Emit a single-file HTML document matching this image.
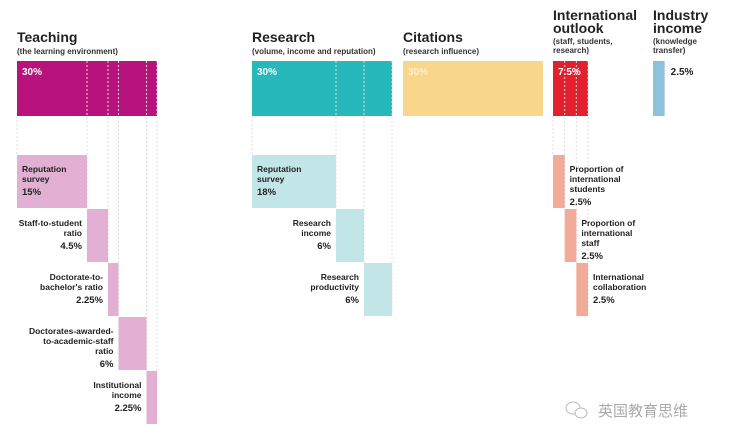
<!DOCTYPE html>
<html><head><meta charset="utf-8"><style>
html,body{margin:0;padding:0;background:#fff;width:730px;height:443px;overflow:hidden}
svg{display:block;font-family:"Liberation Sans","Noto Sans CJK SC",sans-serif}
</style></head><body>
<svg id="chart" width="730" height="443"></svg>
<script>
const groupNames = ["Teaching","Research","Citations","International outlook","Industry income"];
const groupTitles = [["Teaching"],["Research"],["Citations"],["International","outlook"],["Industry","income"]];
const groupSubs = [["(the learning environment)"],["(volume, income and reputation)"],["(research influence)"],["(staff, students,","research)"],["(knowledge","transfer)"]];
const groupValues = [30,30,30,7.5,2.5];
const groupLabels = ["30%","30%","30%","7.5%","2.5%"];
const subLabels = [
 [["Reputation","survey"],["Staff-to-student","ratio"],["Doctorate-to-","bachelor's ratio"],["Doctorates-awarded-","to-academic-staff","ratio"],["Institutional","income"]],
 [["Reputation","survey"],["Research","income"],["Research","productivity"]],
 [],
 [["Proportion of","international","students"],["Proportion of","international","staff"],["International","collaboration"]],
 []
];
const subValues = [[15,4.5,2.25,6,2.25],[18,6,6],[],[2.5,2.5,2.5],[]];
const subValueLabels = [["15%","4.5%","2.25%","6%","2.25%"],["18%","6%","6%"],[],["2.5%","2.5%","2.5%"],[]];
</script>
<script>
const NS="http://www.w3.org/2000/svg";
const svg=document.getElementById('chart');
const groupX=[17,252,403,553,653];
const mainCol=["#b8127c","#27b8bc","#f8d78c","#e3202e","#8fc1dd"];
const subCol=["#e1b0d3","#c2e6e8","#fff","#f2aa99","#fff"];
const scale=140/30;
const w=v=>v*scale;
const mainY=61, mainH=55, subY0=155, rowH=54;
function el(tag,attrs,parent){const e=document.createElementNS(NS,tag);for(const k in attrs)e.setAttribute(k,attrs[k]);(parent||svg).appendChild(e);return e;}
function txt(x,y,s,size,anchor,fill,parent){const t=el('text',{x:x,y:y,'font-size':size,'font-weight':'bold','text-anchor':anchor||'start',fill:fill||'#222'},parent);t.textContent=s;return t;}
groupNames.forEach((g,i)=>{
  const G=el('g',{});
  
  
  const x0=groupX[i];
  const tl=groupTitles[i];
  tl.forEach((l,k)=>{const t=txt(x0,(tl.length>1?20:42)+k*13,l,14,'start','#222',G);});
  const sl=groupSubs[i];
  sl.forEach((l,k)=>{const t=txt(x0,(tl.length>1?44:54)+k*9,l,8,'start','#333',G);});
  const bw=w(groupValues[i]);
  const r=el('rect',{x:x0,y:mainY,width:bw,height:mainH,fill:mainCol[i]},G);
  
  
  if(i===4){txt(x0+bw+6,mainY+14,groupLabels[i],10,'start','#222',G);}
  else txt(x0+5,mainY+14,groupLabels[i],10,'start',i===2?'#fdf0cf':'#fff',G);
  let cx=x0;
  const subs=subValues[i];
  // dotted guide lines
  let acc=x0;
  subs.forEach((v,j)=>{acc+=w(v);
    if(j<subs.length){
      const ln=el('line',{x1:acc,x2:acc,y1:mainY,y2:subY0+j*rowH+rowH,stroke:'#ddd','stroke-dasharray':'2,2','stroke-width':1},G);
      
      
    }
  });
  if(subs.length){const ln=el('line',{x1:x0,x2:x0,y1:mainY+mainH,y2:subY0,stroke:'#ddd','stroke-dasharray':'2,2'},G);}
  subs.forEach((v,j)=>{
    const y=subY0+j*rowH, sw=w(v);
    const sr=el('rect',{x:cx,y:y,width:sw,height:rowH-1,fill:subCol[i]},G);
    
    
    const lines=subLabels[i][j];
    let lx,anchor;
    if(i===3){lx=cx+sw+5;anchor='start';}
    else if(j===0){lx=cx+5;anchor='start';}
    else{lx=cx-5;anchor='end';}
    lines.forEach((l,k)=>txt(lx,y+17+k*10,l,8.5,anchor,'#222',G));
    txt(lx,y+17+lines.length*10+3,subValueLabels[i][j],9.5,anchor,'#222',G);
    cx+=sw;
  });
});
const wm=el('g',{});


el('ellipse',{cx:573,cy:408,rx:7,ry:6,fill:'none',stroke:'#bbb','stroke-width':1},wm);
el('ellipse',{cx:581,cy:413,rx:6,ry:5,fill:'#fff',stroke:'#bbb','stroke-width':1},wm);
const wt=txt(598,416,'英国教育思维',15,'start','#aaa',wm);
wt.setAttribute('font-weight','normal');
</script>
</body></html>
